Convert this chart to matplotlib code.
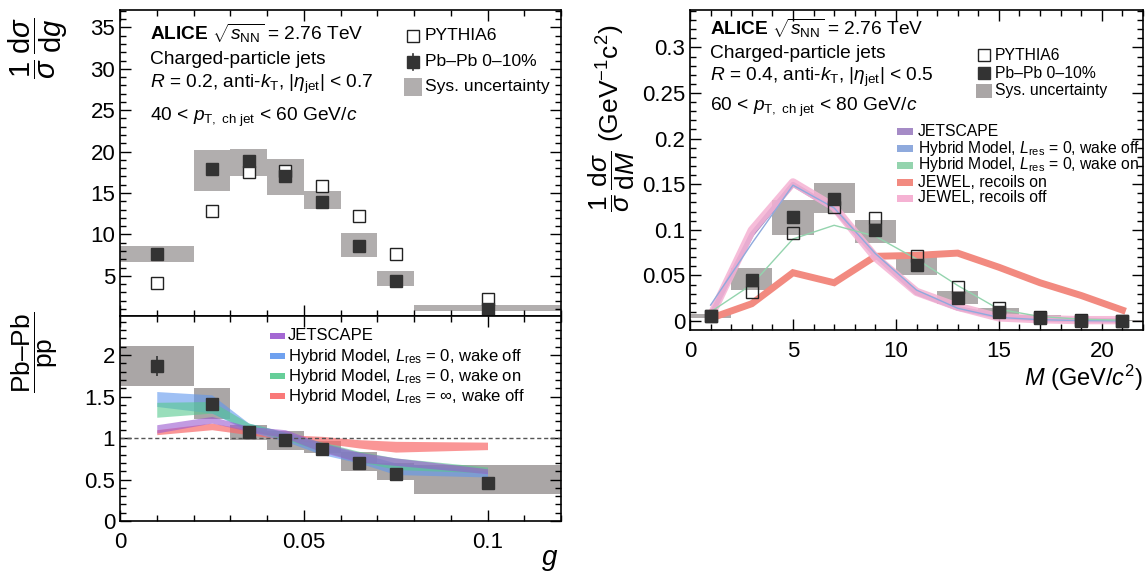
import numpy as np
import matplotlib
matplotlib.use("Agg")
import matplotlib.pyplot as plt
from matplotlib.patches import Rectangle
from matplotlib.lines import Line2D
from matplotlib.ticker import MultipleLocator, FixedLocator

plt.rcParams['font.family'] = ['Liberation Sans', 'DejaVu Sans']
plt.rcParams['mathtext.fontset'] = 'custom'
plt.rcParams['mathtext.rm'] = 'Liberation Sans'
plt.rcParams['mathtext.it'] = 'Liberation Sans:italic'
plt.rcParams['mathtext.bf'] = 'Liberation Sans:bold'

# ---------------- data: left (g) ----------------
g_lo = [0.0, 0.02, 0.03, 0.04, 0.05, 0.06, 0.07, 0.08]
g_hi = [0.02, 0.03, 0.04, 0.05, 0.06, 0.07, 0.08, 0.12]
g_center = [0.01, 0.025, 0.035, 0.045, 0.055, 0.065, 0.075, 0.1]
pbpb_g = [7.6, 17.9, 18.9, 17.1, 13.9, 8.6, 4.4, 0.97]
pbpb_g_stat = [0.3, 0.3, 0.5, 0.4, 0.3, 0.3, 0.2, 0.1]
pbpb_g_sys_lo = [6.7, 15.3, 17.0, 14.8, 13.05, 7.3, 3.8, 0.77]
pbpb_g_sys_hi = [8.6, 20.2, 20.3, 19.1, 15.3, 10.15, 5.6, 1.5]
pythia_g = [4.1, 12.8, 17.5, 17.6, 15.9, 12.25, 7.6, 2.2]

ratio_g = [1.87, 1.41, 1.07, 0.98, 0.87, 0.70, 0.57, 0.46]
ratio_g_stat = [0.12, 0.04, 0.03, 0.03, 0.02, 0.03, 0.03, 0.03]
ratio_g_sys_lo = [1.63, 1.23, 0.97, 0.85, 0.82, 0.60, 0.49, 0.32]
ratio_g_sys_hi = [2.11, 1.60, 1.16, 1.09, 0.96, 0.83, 0.70, 0.68]

jetscape_g_lo = [1.06, 1.18, 1.08, 1.00, 0.83, 0.71, 0.67, 0.57]
jetscape_g_hi = [1.16, 1.26, 1.14, 1.10, 0.94, 0.83, 0.76, 0.63]
hyb_off_g_lo = [1.38, 1.30, 1.08, 0.96, 0.80, 0.70, 0.56, 0.53]
hyb_off_g_hi = [1.56, 1.52, 1.18, 1.07, 0.93, 0.82, 0.70, 0.60]
hyb_on_g_lo = [1.25, 1.30, 1.10, 0.98, 0.84, 0.72, 0.62, 0.58]
hyb_on_g_hi = [1.43, 1.44, 1.18, 1.07, 0.95, 0.84, 0.76, 0.65]
hyb_inf_g_lo = [1.04, 1.10, 1.04, 0.98, 0.94, 0.88, 0.83, 0.86]
hyb_inf_g_hi = [1.10, 1.18, 1.10, 1.04, 1.02, 0.98, 0.96, 0.95]

# ---------------- data: right (M) ----------------
M_lo = [0, 2, 4, 6, 8, 10, 12, 14, 16, 18, 20]
M_hi = [2, 4, 6, 8, 10, 12, 14, 16, 18, 20, 22]
M_center = [1, 3, 5, 7, 9, 11, 13, 15, 17, 19, 21]
pbpb_M = [0.0055, 0.045, 0.114, 0.134, 0.0995, 0.062, 0.0255, 0.010, 0.0036, 0.0004, 0.0]
pbpb_M_stat = [0.001, 0.004, 0.006, 0.005, 0.005, 0.004, 0.003, 0.002, 0.001, 0.0005, 0.0005]
pbpb_M_sys_lo = [0.003, 0.034, 0.094, 0.118, 0.086, 0.051, 0.019, 0.0066, 0.0025, 0.0, 0.0]
pbpb_M_sys_hi = [0.008, 0.058, 0.133, 0.151, 0.111, 0.072, 0.033, 0.014, 0.0066, 0.001, 0.0008]
pythia_M = [0.005, 0.032, 0.097, 0.125, 0.113, 0.071, 0.037, 0.014, 0.004, 0.001, 0.0]

jetscape_M = [0.006, 0.095, 0.150, 0.123, 0.072, 0.031, 0.014, 0.005, 0.002, 0.001, 0.0005]
hyb_off_M = [0.0175, 0.085, 0.149, 0.124, 0.074, 0.034, 0.014, 0.004, 0.0015, 0.0005, 0.0002]
hyb_on_M = [0.010, 0.040, 0.090, 0.105, 0.093, 0.068, 0.039, 0.013, 0.005, 0.002, 0.001]
jewel_on_M = [0.003, 0.019, 0.053, 0.042, 0.071, 0.072, 0.0745, 0.059, 0.042, 0.028, 0.012]
jewel_off_M = [0.005, 0.0995, 0.152, 0.125, 0.070, 0.032, 0.0157, 0.004, 0.002, 0.001, 0.001]

# ---------------- styles ----------------
W, H = 1145, 573
DARK = '#333333'
SYS_T = '#b1aeae'
SYS_B = '#aaa6a6'
C_JS = '#9a58cf'
C_HOFF = '#5f97ee'
C_HON = '#55c98e'
C_HINF = '#f96a6a'
R_JS = '#a58bc6'
R_HOFF = '#8faadd'
R_HON = '#94d4ae'
R_JON = '#f28a80'
R_JOFF = '#f5b2d3'
ENDASH = '\u2013'

fig = plt.figure(figsize=(W / 100, H / 100), dpi=100)


def fx(x):
    return x / W


def fy(y):
    return 1 - y / H


axT = fig.add_axes([fx(120), fy(316), 441 / W, 306 / H])
axB = fig.add_axes([fx(120), fy(521), 441 / W, 205 / H])
axR = fig.add_axes([fx(690), fy(330), 453 / W, 320 / H])

TICK_FS = 16


def style(ax):
    ax.tick_params(direction='in', which='both', top=True, right=True,
                   labelsize=TICK_FS, width=1.0)
    ax.tick_params(which='major', length=8)
    ax.tick_params(which='minor', length=4)
    for s in ax.spines.values():
        s.set_linewidth(1.2)


# ---- top-left ----
for lo, hi, slo, shi in zip(g_lo, g_hi, pbpb_g_sys_lo, pbpb_g_sys_hi):
    axT.add_patch(Rectangle((lo, slo), hi - lo, shi - slo, facecolor=SYS_T,
                            edgecolor='none', zorder=1))
axT.plot(g_center, pythia_g, ls='none', marker='s', ms=9, mfc='white',
         mec='#222222', mew=1.0, zorder=3)
axT.errorbar(g_center, pbpb_g, yerr=pbpb_g_stat, fmt='s', ms=9, color=DARK,
             ecolor=DARK, elinewidth=1.2, capsize=0, zorder=4)
axT.set_xlim(0, 0.12)
axT.set_ylim(0.15, 37.1)
axT.xaxis.set_major_locator(MultipleLocator(0.05))
axT.xaxis.set_minor_locator(MultipleLocator(0.01))
axT.yaxis.set_major_locator(FixedLocator([5, 10, 15, 20, 25, 30, 35]))
axT.yaxis.set_minor_locator(MultipleLocator(1))
style(axT)
axT.tick_params(labelbottom=False)

# ---- bottom-left ----
for lo, hi, slo, shi in zip(g_lo, g_hi, ratio_g_sys_lo, ratio_g_sys_hi):
    axB.add_patch(Rectangle((lo, slo), hi - lo, shi - slo, facecolor=SYS_B,
                            edgecolor='none', zorder=1))
axB.fill_between(g_center, hyb_inf_g_lo, hyb_inf_g_hi, color=C_HINF, alpha=0.7, lw=0, zorder=2)
axB.fill_between(g_center, hyb_off_g_lo, hyb_off_g_hi, color=C_HOFF, alpha=0.6, lw=0, zorder=2)
axB.fill_between(g_center, hyb_on_g_lo, hyb_on_g_hi, color=C_HON, alpha=0.6, lw=0, zorder=2)
axB.fill_between(g_center, jetscape_g_lo, jetscape_g_hi, color=C_JS, alpha=0.6, lw=0, zorder=2)
axB.axhline(1.0, color='#555555', ls=(0, (3, 2)), lw=1.0, zorder=2.5)
axB.errorbar(g_center, ratio_g, yerr=ratio_g_stat, fmt='s', ms=9, color=DARK,
             ecolor=DARK, elinewidth=1.2, capsize=0, zorder=4)
axB.set_xlim(0, 0.12)
axB.set_ylim(0, 2.47)
axB.xaxis.set_major_locator(FixedLocator([0, 0.05, 0.1]))
axB.xaxis.set_minor_locator(MultipleLocator(0.01))
axB.yaxis.set_major_locator(FixedLocator([0, 0.5, 1, 1.5, 2]))
axB.yaxis.set_minor_locator(MultipleLocator(0.1))
axB.set_xticklabels(['0', '0.05', '0.1'])
axB.set_yticklabels(['0', '0.5', '1', '1.5', '2'])
style(axB)
axB.tick_params(axis='x', pad=8)

# ---- right ----
for lo, hi, slo, shi in zip(M_lo, M_hi, pbpb_M_sys_lo, pbpb_M_sys_hi):
    axR.add_patch(Rectangle((lo, slo), hi - lo, shi - slo, facecolor=SYS_B,
                            edgecolor='none', alpha=0.95, zorder=1))
axR.plot(M_center, jewel_on_M, color=R_JON, lw=5, zorder=2, solid_joinstyle='miter')
axR.plot(M_center, jetscape_M, color=R_JS, lw=3.5, zorder=2)
axR.plot(M_center, jewel_off_M, color=R_JOFF, lw=6, alpha=0.85, zorder=2.2)
axR.plot(M_center, hyb_off_M, color=R_HOFF, lw=1.0, zorder=2.3)
axR.plot(M_center, hyb_on_M, color=R_HON, lw=1.0, zorder=2.3)
axR.plot(M_center, pythia_M, ls='none', marker='s', ms=9, mfc='none',
         mec='#222222', mew=1.0, zorder=3)
axR.errorbar(M_center, pbpb_M, yerr=pbpb_M_stat, fmt='s', ms=9, color=DARK,
             ecolor=DARK, elinewidth=1.2, capsize=0, zorder=4)
axR.set_xlim(0, 22)
axR.set_ylim(-0.0098, 0.341)
axR.xaxis.set_major_locator(FixedLocator([0, 5, 10, 15, 20]))
axR.xaxis.set_minor_locator(MultipleLocator(1))
axR.yaxis.set_major_locator(FixedLocator([0, 0.05, 0.1, 0.15, 0.2, 0.25, 0.3]))
axR.yaxis.set_minor_locator(MultipleLocator(0.01))
axR.set_yticklabels(['0', '0.05', '0.1', '0.15', '0.2', '0.25', '0.3'])
style(axR)
axR.tick_params(axis='x', pad=8)

# ---------------- axis labels ----------------
fig.text(fx(38), fy(48), r'$\dfrac{1}{\sigma}\,\dfrac{\mathrm{d}\sigma}{\mathrm{d}g}$',
         rotation=90, fontsize=21, ha='center', va='center')
fig.text(fx(35), fy(352), r'$\dfrac{\mathrm{Pb' + ENDASH + r'Pb}}{\mathrm{pp}}$',
         rotation=90, fontsize=19, ha='center', va='center')
fig.text(fx(558), fy(560), r'$g$', fontsize=20, ha='right', va='center')
fig.text(fx(612), fy(118),
         r'$\dfrac{1}{\sigma}\,\dfrac{\mathrm{d}\sigma}{\mathrm{d}M}$ (GeV$^{-1}$c$^{2}$)',
         rotation=90, fontsize=19, ha='center', va='center')
fig.text(fx(1143), fy(378), r'$M$ (GeV/$c^{2}$)', fontsize=17, ha='right', va='center')

# ---------------- annotation text ----------------
FS_T = 13.8
fig.text(fx(150), fy(33), r'$\mathbf{ALICE}$ $\sqrt{s_{\mathrm{NN}}}$ = 2.76 TeV', fontsize=FS_T, va='center')
fig.text(fx(150), fy(60), 'Charged-particle jets', fontsize=FS_T, va='center')
fig.text(fx(150), fy(84), r'$R$ = 0.2, anti-$k_{\mathrm{T}}$, |$\eta_{\mathrm{jet}}$| < 0.7', fontsize=FS_T, va='center')
fig.text(fx(150), fy(117), r'40 < $p_{\mathrm{T,\ ch\ jet}}$ < 60 GeV/$c$', fontsize=FS_T, va='center')

fig.text(fx(710), fy(28), r'$\mathbf{ALICE}$ $\sqrt{s_{\mathrm{NN}}}$ = 2.76 TeV', fontsize=FS_T, va='center')
fig.text(fx(710), fy(53), 'Charged-particle jets', fontsize=FS_T, va='center')
fig.text(fx(710), fy(77), r'$R$ = 0.4, anti-$k_{\mathrm{T}}$, |$\eta_{\mathrm{jet}}$| < 0.5', fontsize=FS_T, va='center')
fig.text(fx(710), fy(107), r'60 < $p_{\mathrm{T,\ ch\ jet}}$ < 80 GeV/$c$', fontsize=FS_T, va='center')


# ---------------- legends (layout only) ----------------
def leg_marker(x, y, filled, ms=9):
    fig.add_artist(Line2D([fx(x)], [fy(y)], transform=fig.transFigure, marker='s', ms=ms,
                          mfc=DARK if filled else 'white', mec='#222222' if not filled else DARK,
                          mew=1.0, ls='none'))


def leg_box(x, y, w, h, color, alpha=1.0):
    fig.add_artist(Rectangle((fx(x - w / 2), fy(y + h / 2)), w / W, h / H, transform=fig.transFigure,
                             facecolor=color, edgecolor='none', alpha=alpha))


LEG_FS = 12.6
leg_marker(413, 36, False)
fig.text(fx(425), fy(36), 'PYTHIA6', fontsize=LEG_FS, va='center')
leg_marker(413, 62, True)
fig.add_artist(Line2D([fx(413), fx(413)], [fy(54), fy(70)], transform=fig.transFigure, color=DARK, lw=1.2))
fig.text(fx(425), fy(62), 'Pb' + ENDASH + 'Pb 0' + ENDASH + '10%', fontsize=LEG_FS, va='center')
leg_box(413, 87, 18, 17, SYS_T)
fig.text(fx(425), fy(87), 'Sys. uncertainty', fontsize=LEG_FS, va='center')

LEG_FS2 = 12
rows = [(336, C_JS, 'JETSCAPE'),
        (356, C_HOFF, r'Hybrid Model, $L_{\mathrm{res}}$ = 0, wake off'),
        (376, C_HON, r'Hybrid Model, $L_{\mathrm{res}}$ = 0, wake on'),
        (396, C_HINF, r'Hybrid Model, $L_{\mathrm{res}}$ = $\infty$, wake off')]
for y, c, lab in rows:
    leg_box(277, y, 15, 6, c, 0.9)
    fig.text(fx(288), fy(y), lab, fontsize=LEG_FS2, va='center')

LEG_FS3 = 11.3
leg_marker(984, 55, False)
fig.text(fx(995), fy(55), 'PYTHIA6', fontsize=LEG_FS3, va='center')
leg_marker(984, 73, True)
fig.text(fx(995), fy(73), 'Pb' + ENDASH + 'Pb 0' + ENDASH + '10%', fontsize=LEG_FS3, va='center')
leg_box(984, 91, 17, 14, SYS_B)
fig.text(fx(995), fy(91), 'Sys. uncertainty', fontsize=LEG_FS3, va='center')

rows_r = [(131, R_JS, 'JETSCAPE'),
          (148, R_HOFF, r'Hybrid Model, $L_{\mathrm{res}}$ = 0, wake off'),
          (165, R_HON, r'Hybrid Model, $L_{\mathrm{res}}$ = 0, wake on'),
          (182, R_JON, 'JEWEL, recoils on'),
          (198, R_JOFF, 'JEWEL, recoils off')]
for y, c, lab in rows_r:
    leg_box(905, y, 17, 7, c)
    fig.text(fx(918), fy(y), lab, fontsize=LEG_FS3, va='center')

fig.savefig('out.png', dpi=100)
